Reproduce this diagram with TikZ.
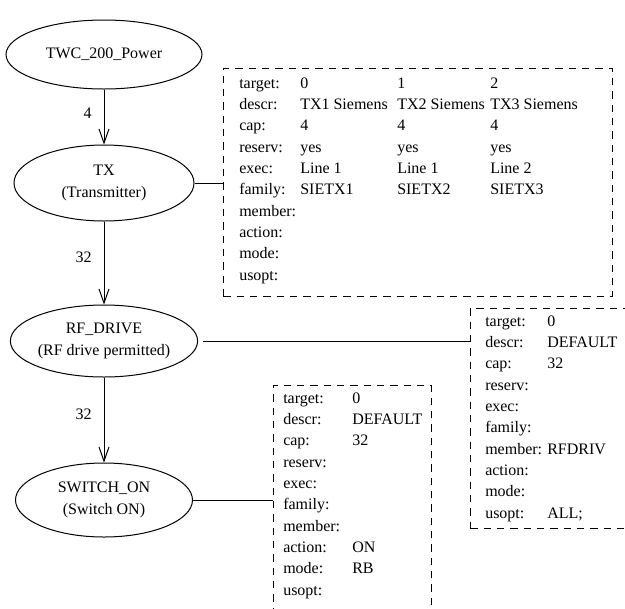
\documentclass[tikz,border=0pt]{standalone}
\usepackage{fontspec}
\setmainfont{Liberation Serif}
\usetikzlibrary{arrows.meta, shapes.geometric}
\setlength{\tabcolsep}{0pt}
\tikzset{state/.style={draw, ellipse, line width=0.75pt, inner sep=0pt, align=center}}
\tikzset{infobox/.style={draw, dash pattern=on 5.5pt off 4.5pt, line width=0.6pt, inner sep=0pt, anchor=north west}}
\tikzset{fields/.style={inner sep=0pt, anchor=north west}}
\tikzset{arr/.style={draw, line width=0.75pt, -{Straight Barb[length=10.5pt,width=7.5pt]}}}
\tikzset{lnk/.style={draw, line width=0.75pt}}
\tikzset{cnt/.style={left, inner sep=0pt, xshift=-9pt, pos=0.43}}

\begin{document}
\begin{tikzpicture}[x=0.75pt, y=-0.75pt, font=\fontsize{12}{16}\selectfont]
	\useasboundingbox (0,0) rectangle (625,608);
	\clip (0,0) rectangle (625,608);
	% states
	\node[state, minimum width=147pt, minimum height=51.75pt] (twc) at (104,54.5) {TWC\_200\_Power};
	\node[state, minimum width=135pt, minimum height=57pt] (tx) at (104,183) {TX\\(Transmitter)};
	\node[state, minimum width=135pt, minimum height=54pt] (rf) at (104,341) {RF\_DRIVE\\(RF drive permitted)};
	\node[state, minimum width=132.75pt, minimum height=55.5pt] (sw) at (104,500) {SWITCH\_ON\\(Switch ON)};
	\draw[arr] (twc) -- node[cnt]{4} (tx);
	\draw[arr] (tx) -- node[cnt]{32} (rf);
	\draw[arr] (rf) -- node[cnt]{32} (sw);
	% TX parameters
	\node[infobox, minimum width=291.75pt, minimum height=171pt] (txbox) at (223,68) {};
	\node[fields] (txfields) at ([shift={(16,5)}]txbox.north west) {%
		\begin{tabular}{@{}p{45.75pt}p{72.75pt}p{69.75pt}l@{}}
			target: & 0 & 1 & 2\\
			descr: & TX1 Siemens & TX2 Siemens & TX3 Siemens\\
			cap: & 4 & 4 & 4\\
			reserv: & yes & yes & yes\\
			exec: & Line 1 & Line 1 & Line 2\\
			family: & SIETX1 & SIETX2 & SIETX3\\
			member: \\
			action: \\
			mode: \\
			usopt: \\
		\end{tabular}};
	\draw[lnk] (tx.east) -- (tx.east -| txbox.west);
	% RF_DRIVE parameters
	\node[infobox, minimum width=127.5pt, minimum height=165pt] (rfbox) at (470,308) {};
	\node[fields] (rffields) at ([shift={(15,3)}]rfbox.north west) {%
		\begin{tabular}{@{}p{46.5pt}l@{}}
			target: & 0\\
			descr: & DEFAULT\\
			cap: & 32\\
			reserv: \\
			exec: \\
			family: \\
			member: & RFDRIV\\
			action: \\
			mode: \\
			usopt: & ALL;\\
		\end{tabular}};
	\draw[lnk, shorten <=4pt] (rf.east) -- (rf.east -| rfbox.west);
	% SWITCH_ON parameters
	\node[infobox, minimum width=118.5pt, minimum height=176.25pt] (swbox) at (273,385) {};
	\node[fields] (swfields) at ([shift={(10,3)}]swbox.north west) {%
		\begin{tabular}{@{}p{51.75pt}l@{}}
			target: & 0\\
			descr: & DEFAULT\\
			cap: & 32\\
			reserv: \\
			exec: \\
			family: \\
			member: \\
			action: & ON\\
			mode: & RB\\
			usopt: \\
		\end{tabular}};
	\draw[lnk] (sw.east) -- (sw.east -| swbox.west);
\end{tikzpicture}
\end{document}
